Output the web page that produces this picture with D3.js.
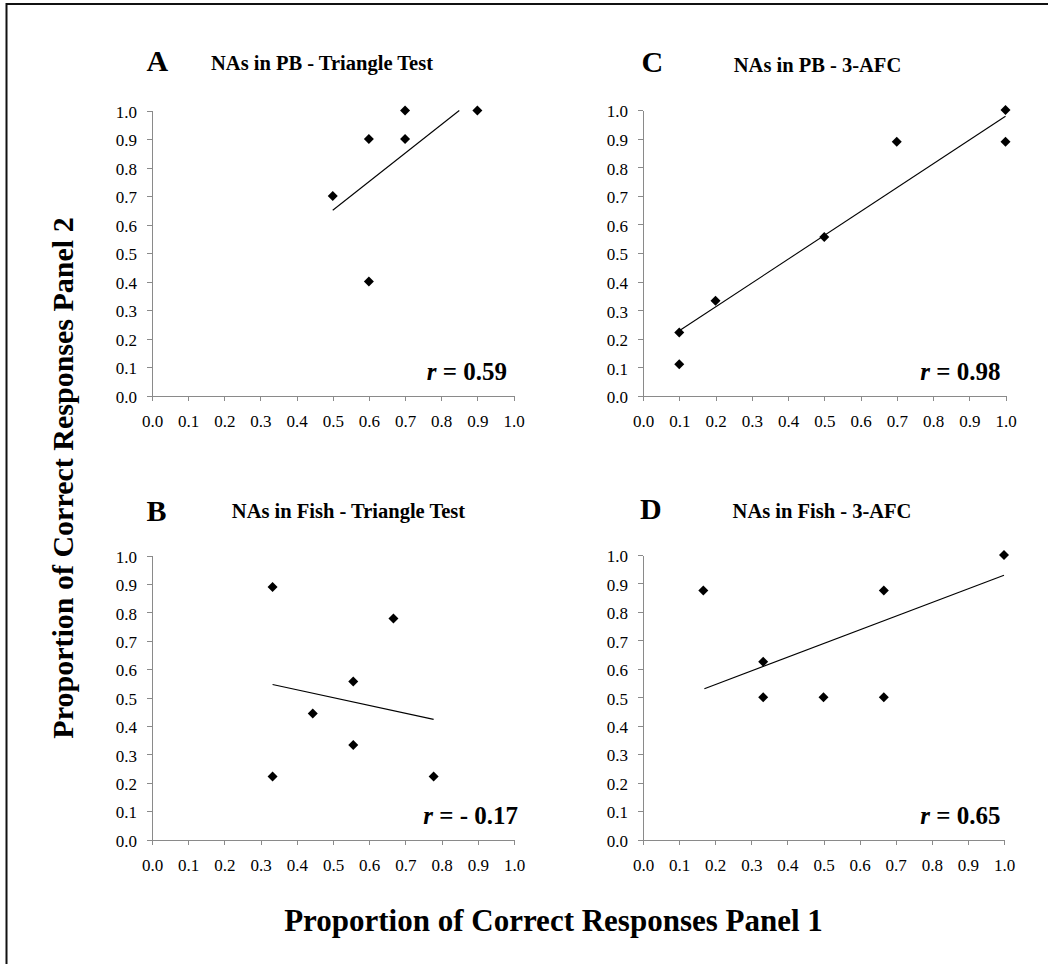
<!DOCTYPE html>
<html>
<head>
<meta charset="utf-8">
<script src="https://cdn.jsdelivr.net/npm/d3@7"></script>
<style>
  html, body { margin: 0; padding: 0; background: #fff; }
  svg { display: block; }
  text { font-family: "Liberation Serif", "Times New Roman", serif; fill: #000; }
</style>
</head>
<body>
<svg id="chart" width="1048" height="964"></svg>
<script>
// ---------------- data ----------------
const panelIds    = ["A", "C", "B", "D"];
const panelTitles = ["NAs in PB - Triangle Test", "NAs in PB - 3-AFC",
                     "NAs in Fish - Triangle Test", "NAs in Fish - 3-AFC"];
const rValues     = ["0.59", "0.98", "- 0.17", "0.65"];

const tickValues  = [0, 0.1, 0.2, 0.3, 0.4, 0.5, 0.6, 0.7, 0.8, 0.9, 1.0];

// Panel A: NAs in PB - Triangle Test
const xA = [0.5, 0.6, 0.6, 0.7, 0.7, 0.9];
const yA = [0.7, 0.9, 0.4, 1.0, 0.9, 1.0];
const trendAx = [0.5, 0.85];
const trendAy = [0.65, 1.0];

// Panel C: NAs in PB - 3-AFC
const xC = [0.1, 0.1, 0.2, 0.5, 0.7, 1.0, 1.0];
const yC = [0.222, 0.111, 0.333, 0.556, 0.889, 1.0, 0.889];
const trendCx = [0.1, 1.0];
const trendCy = [0.228, 0.978];

// Panel B: NAs in Fish - Triangle Test
const xB = [0.333, 0.667, 0.556, 0.444, 0.556, 0.333, 0.778];
const yB = [0.889, 0.778, 0.556, 0.444, 0.333, 0.222, 0.222];
const trendBx = [0.333, 0.778];
const trendBy = [0.546, 0.423];

// Panel D: NAs in Fish - 3-AFC
const xD = [0.167, 0.333, 0.333, 0.5, 0.667, 0.667, 1.0];
const yD = [0.875, 0.625, 0.5, 0.5, 0.875, 0.5, 1.0];
const trendDx = [0.17, 1.0];
const trendDy = [0.53, 0.929];

const xTitle = "Proportion of Correct Responses Panel 1";
const yTitle = "Proportion of Correct Responses Panel 2";

// ---------------- layout ----------------
const layout = {
  A: {x0: 152, x1: 513.5, yTop: 110.5, yBot: 395.5, letterX: 146.5, letterY: 70.5, titleX: 322, titleY: 69.5, rX: 507, rY: 379.5},
  C: {x0: 643, x1: 1005.5, yTop: 110,  yBot: 396,   letterX: 641.5, letterY: 72,   titleX: 817.5, titleY: 72, rX: 1000.5, rY: 379.5},
  B: {x0: 152, x1: 514,    yTop: 555.5, yBot: 839.5, letterX: 146.5, letterY: 520.5, titleX: 348.5, titleY: 517.5, rX: 518, rY: 823.5},
  D: {x0: 643, x1: 1004,   yTop: 555,  yBot: 839.5, letterX: 640,   letterY: 519,  titleX: 822, titleY: 517.5, rX: 1000.5, rY: 823.5}
};
const seriesById = {
  A: {x: xA, y: yA, tx: trendAx, ty: trendAy},
  C: {x: xC, y: yC, tx: trendCx, ty: trendCy},
  B: {x: xB, y: yB, tx: trendBx, ty: trendBy},
  D: {x: xD, y: yD, tx: trendDx, ty: trendDy}
};

const axisColor = "#8a8a8a";
const svg = d3.select("#chart");

// frame (top and left edges visible in the reference)
svg.append("line").attr("x1", 6).attr("x2", 1048).attr("y1", 4).attr("y2", 4)
  .attr("stroke", "#111").attr("stroke-width", 2);
svg.append("line").attr("x1", 6.5).attr("x2", 6.5).attr("y1", 3).attr("y2", 964)
  .attr("stroke", "#111").attr("stroke-width", 2);

const fmt = d3.format(".1f");
const diamond = d3.symbol().type(d3.symbolSquare).size(50);

panelIds.forEach((id, i) => {
  const L = layout[id];
  const S = seriesById[id];
  const x = d3.scaleLinear().domain([0, 1]).range([L.x0, L.x1]);
  const y = d3.scaleLinear().domain([0, 1]).range([L.yBot, L.yTop]);
  const g = svg.append("g");

  // x axis
  const gx = g.append("g").attr("transform", `translate(0,${L.yBot})`)
    .call(d3.axisBottom(x).tickValues(tickValues).tickFormat(fmt)
      .tickSize(5).tickSizeOuter(0).tickPadding(14));
  // y axis
  const gy = g.append("g").attr("transform", `translate(${L.x0},0)`)
    .call(d3.axisLeft(y).tickValues(tickValues).tickFormat(fmt)
      .tickSize(5).tickSizeOuter(0).tickPadding(10));
  [gx, gy].forEach(ax => {
    ax.attr("font-family", null).attr("font-size", null);
    ax.select(".domain").attr("stroke", axisColor).attr("shape-rendering", "crispEdges");
    ax.selectAll(".tick line").attr("stroke", axisColor).attr("shape-rendering", "crispEdges");
    ax.selectAll(".tick text").attr("fill", "#000")
      .style("font-family", '"Liberation Serif", "Times New Roman", serif').style("font-size", "17px");
  });
  gy.selectAll(".tick text").attr("dy", "0.4em");

  // trend line
  const line = d3.line().x(d => x(d[0])).y(d => y(d[1]));
  g.append("path").datum(S.tx.map((v, k) => [v, S.ty[k]]))
    .attr("d", line).attr("fill", "none").attr("stroke", "#000").attr("stroke-width", 1.1);

  // points
  g.selectAll("path.pt").data(S.x.map((v, k) => [v, S.y[k]])).enter()
    .append("path").attr("class", "pt")
    .attr("d", diamond)
    .attr("transform", d => `translate(${x(d[0])},${y(d[1])}) rotate(45)`)
    .attr("fill", "#000");

  // panel letter
  g.append("text").attr("x", L.letterX).attr("y", L.letterY)
    .style("font-size", "30px").style("font-weight", "bold").text(id);
  // panel title
  g.append("text").attr("x", L.titleX).attr("y", L.titleY).attr("text-anchor", "middle")
    .style("font-size", "20.5px").style("font-weight", "bold")
    .text(panelTitles[i]);
  // r label
  const rt = g.append("text").attr("x", L.rX).attr("y", L.rY).attr("text-anchor", "end")
    .style("font-size", "25px").style("font-weight", "bold");
  rt.append("tspan").style("font-style", "italic").text("r");
  rt.append("tspan").text(" = " + rValues[i]);
});

// axis titles
svg.append("text").attr("x", 553.5).attr("y", 931).attr("text-anchor", "middle")
  .style("font-size", "31px").style("font-weight", "bold")
  .text(xTitle);
svg.append("text").attr("transform", "translate(73,478) rotate(-90)").attr("text-anchor", "middle")
  .style("font-size", "30px").style("font-weight", "bold")
  .text(yTitle);
</script>
</body>
</html>
